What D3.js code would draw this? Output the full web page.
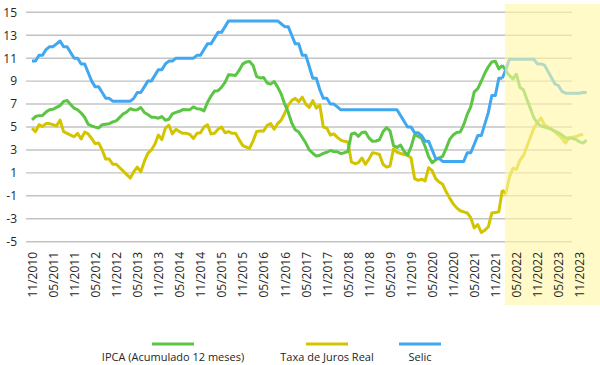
<!DOCTYPE html>
<html><head><meta charset="utf-8">
<script src="https://cdn.jsdelivr.net/npm/d3@7/dist/d3.min.js"></script>
<style>
body{margin:0;background:#fff}
text{font-family:"Open Sans",sans-serif;fill:#262626}
</style>
</head><body>
<svg id="c" width="600" height="365"></svg>
<script>
// ---------- DATA ----------
const firstMonth = "11/2010";
const lastMonth = "01/2024";
const forecastFrom = "02/2022";
const tickLabels = ["11/2010","05/2011","11/2011","05/2012","11/2012","05/2013","11/2013","05/2014",
  "11/2014","05/2015","11/2015","05/2016","11/2016","05/2017","11/2017","05/2018","11/2018","05/2019",
  "11/2019","05/2020","11/2020","05/2021","11/2021","05/2022","11/2022","05/2023","11/2023"];
const yTicks = [-5,-3,-1,1,3,5,7,9,11,13,15];
const seriesNames = ["IPCA (Acumulado 12 meses)","Taxa de Juros Real","Selic"];

// monthly, 11/2010 .. 01/2022
const ipca = [
 5.63,5.91,                                             // 2010
 5.99,6.01,6.30,6.51,6.55,6.71,6.87,7.23,7.31,6.97,6.64,6.50, // 2011
 6.22,5.85,5.24,5.10,4.99,4.92,5.20,5.24,5.28,5.45,5.53,5.84, // 2012
 6.15,6.31,6.59,6.49,6.50,6.70,6.27,6.09,5.86,5.84,5.77,5.91, // 2013
 5.59,5.68,6.15,6.28,6.37,6.52,6.50,6.51,6.75,6.59,6.56,6.41, // 2014
 7.14,7.70,8.13,8.17,8.47,8.89,9.56,9.53,9.49,9.93,10.48,10.67, // 2015
 10.71,10.36,9.39,9.28,9.32,8.84,8.74,8.97,8.48,7.87,6.99,6.29, // 2016
 5.35,4.76,4.57,4.08,3.60,3.00,2.71,2.46,2.54,2.70,2.80,2.95, // 2017
 2.86,2.84,2.68,2.76,2.86,4.39,4.48,4.19,4.53,4.56,4.05,3.75, // 2018
 3.78,3.89,4.58,4.94,4.66,3.37,3.22,3.43,2.89,2.54,3.27,4.31, // 2019
 4.19,4.01,3.30,2.40,1.88,2.13,2.31,2.44,3.14,3.92,4.31,4.52, // 2020
 4.56,5.20,6.10,6.76,8.06,8.35,8.99,9.68,10.25,10.67,10.74,10.06, // 2021
 10.38                                                   // 2022
];
const juroReal = [
 4.9,4.6,
 5.2,5.05,5.3,5.3,5.2,5.1,5.6,4.6,4.45,4.3,4.15,4.45,
 3.95,4.55,4.4,4.0,3.55,3.6,3.0,2.2,2.2,1.75,1.75,1.45,
 1.15,0.85,0.55,1.1,1.5,1.1,2.0,2.7,3.0,3.5,4.3,3.9,
 4.9,5.15,4.4,4.8,4.6,4.45,4.45,4.35,4.0,4.45,4.5,5.0,
 5.2,4.4,4.45,4.8,5.0,4.5,4.6,4.45,4.45,3.9,3.4,3.25,
 3.15,3.8,4.6,4.65,4.65,5.15,5.3,4.8,5.3,5.6,6.2,6.9,
 7.3,7.5,7.2,7.6,7.0,6.7,7.3,6.65,6.9,5.0,4.9,4.3,
 4.4,4.1,3.85,3.75,3.7,1.95,1.8,1.9,2.3,1.75,2.2,2.75,
 2.7,2.6,1.75,1.5,1.6,3.1,2.8,2.7,2.6,2.55,2.3,0.5,
 0.35,0.45,0.3,1.45,1.2,0.5,0.2,0.0,-0.65,-1.2,-1.7,-2.05,
 -2.3,-2.4,-2.5,-2.9,-3.8,-3.5,-4.2,-4.0,-3.7,-2.5,-2.45,-2.4,
 -0.5
];
const selic = [
 10.75,10.75,
 11.25,11.25,11.75,12.00,12.00,12.25,12.50,12.00,12.00,11.50,11.00,11.00,
 10.50,10.50,9.75,9.00,8.50,8.50,8.00,7.50,7.50,7.25,7.25,7.25,
 7.25,7.25,7.25,7.50,8.00,8.00,8.50,9.00,9.00,9.50,10.00,10.00,
 10.50,10.75,10.75,11.00,11.00,11.00,11.00,11.00,11.00,11.25,11.25,11.75,
 12.25,12.25,12.75,13.25,13.25,13.75,14.25,14.25,14.25,14.25,14.25,14.25,
 14.25,14.25,14.25,14.25,14.25,14.25,14.25,14.25,14.25,14.00,13.75,13.75,
 13.00,12.25,12.25,11.25,11.25,10.25,9.25,9.25,8.25,7.50,7.50,7.00,
 7.00,6.75,6.50,6.50,6.50,6.50,6.50,6.50,6.50,6.50,6.50,6.50,
 6.50,6.50,6.50,6.50,6.50,6.50,6.50,6.00,5.50,5.00,5.00,4.50,
 4.50,4.25,3.75,3.75,3.00,2.25,2.25,2.00,2.00,2.00,2.00,2.00,
 2.00,2.00,2.75,2.75,3.50,4.25,4.25,5.25,6.25,7.75,7.75,9.25,
 9.25
];
// projections, 01/2022 ..
const ipcaProj = [10.38,9.9,9.5,9.2,9.6,8.45,8.25,7.4,6.6,5.8,5.35,5.1,5.0,4.9,4.8,4.65,4.5,4.3,4.05,4.05,4.0,3.9,3.7,3.6,3.85];
const juroRealProj = [-0.5,-0.8,0.6,1.4,1.3,2.1,2.5,3.3,4.1,4.9,5.4,5.8,5.2,5.0,4.8,4.55,4.3,4.0,3.6,4.05,4.1,4.15,4.3,4.35];
const selicProj = [9.25,10.0,10.9,10.9,10.9,10.9,10.9,10.9,10.9,10.9,10.5,10.5,10.4,9.85,9.3,8.75,8.6,8.1,7.95,7.95,7.95,7.95,7.95,8.0,8.0];

// ---------- CHART ----------
const svg = d3.select("#c");
const parse = d3.timeParse("%m/%Y"), fmt = d3.timeFormat("%m/%Y");
const categories = d3.timeMonth.range(parse(firstMonth), d3.timeMonth.offset(parse(lastMonth),1)).map(fmt);
const x = d3.scalePoint().domain(categories).range([32, 32 + 3.51*(categories.length-1)]);
const y = d3.scaleLinear().domain([-5,15]).range([241.7,12.3]);

const colors = ["#5cc544","#d3c400","#3fa8f1"];

// grid
svg.append("g").selectAll("line").data(yTicks).join("line")
  .attr("x1",26).attr("x2",572).attr("y1",d=>y(d)).attr("y2",d=>y(d))
  .attr("stroke","#c3c3c3").attr("stroke-width",1.4);

const line = offset => d3.line().x((d,i)=>x(categories[i+offset])).y(d=>y(d)).curve(d3.curveLinear);
const pIdx = categories.indexOf("01/2022");
const series = [[ipca,ipcaProj],[juroReal,juroRealProj],[selic,selicProj]];
const order = [1,0,2];
order.forEach(k=>{
  const [act,proj] = series[k];
  svg.append("path").attr("d",line(pIdx)(proj)).attr("fill","none")
    .attr("stroke",colors[k]).attr("stroke-width",3).attr("stroke-linejoin","round");
  svg.append("path").attr("d",line(0)(act)).attr("fill","none")
    .attr("stroke",colors[k]).attr("stroke-width",3).attr("stroke-linejoin","round");
});

// forecast shading
const fx = x(forecastFrom) - 1;
svg.append("rect").attr("x",fx).attr("y",4).attr("width",600-fx).attr("height",301)
  .attr("fill","#fff7a6").attr("fill-opacity",0.62);

// y axis
const ya = svg.append("g").attr("transform","translate(17,0)")
  .call(d3.axisLeft(y).tickValues(yTicks).tickFormat(d=>String(d)).tickSize(0).tickPadding(0));
ya.select(".domain").remove();
ya.selectAll("text").attr("font-size",12).style("font-family","'Open Sans',sans-serif").attr("fill","#262626");

// x axis
const xa = svg.append("g").attr("transform","translate(0,252)")
  .call(d3.axisBottom(x).tickValues(tickLabels).tickSize(0).tickPadding(0));
xa.select(".domain").remove();
xa.selectAll("text").attr("font-size",12).style("font-family","'Open Sans',sans-serif").attr("fill","#262626")
  .attr("transform","rotate(-90)").attr("text-anchor","end").attr("x",0).attr("y",0).attr("dy","0.36em");

// legend
const legX = [173,327,420];
const lg = svg.append("g");
seriesNames.forEach((n,i)=>{
  lg.append("line").attr("x1",legX[i]-21).attr("x2",legX[i]+21).attr("y1",344).attr("y2",344)
    .attr("stroke",colors[i]).attr("stroke-width",3);
  lg.append("text").attr("x",legX[i]).attr("y",361).attr("text-anchor","middle")
    .attr("font-size",11).text(n);
});
</script>
</body></html>
